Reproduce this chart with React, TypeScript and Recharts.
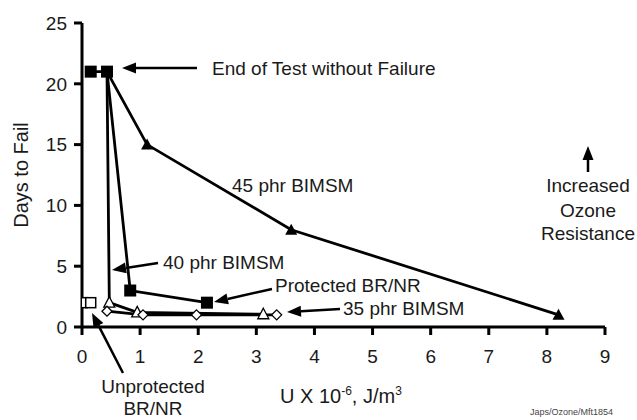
import React from "react";
import { LineChart, Line, XAxis, YAxis } from "recharts";

// Days to fail vs. strain energy density U (x 10^-6 J/m^3)
const protectedX = [0.15, 0.43, 0.83, 2.15];
const protectedY = [21, 21, 3, 2];
const phr45X = [0.43, 1.12, 3.6, 8.2];
const phr45Y = [21, 15, 8, 1];
const phr40X = [0.43, 0.47, 0.95, 3.12];
const phr40Y = [21, 2, 1.2, 1.05];
const phr35X = [0.43, 1.05, 1.97, 3.35];
const phr35Y = [1.3, 1, 1, 1];
const unprotX = [0, 0.15];
const unprotY = [2, 2];

const xTicks = [0, 1, 2, 3, 4, 5, 6, 7, 8, 9];
const yTicks = [0, 5, 10, 15, 20, 25];

const toPoints = (xs, ys) => xs.map((x, i) => ({ x, y: ys[i] }));

const FONT = "'Liberation Sans', Arial, sans-serif";
const INK = "#1a1a1a";

const makeDot = (kind, skipFirst) => (props) => {
  const { cx, cy, index } = props;
  const key = `d-${kind}-${index}`;
  if ((skipFirst && index === 0) || cx == null || cy == null) return <g key={key} />;
  if (kind === "fsquare") {
    return <rect key={key} x={cx - 6} y={cy - 6} width={12} height={12} fill="#000" />;
  }
  if (kind === "osquare") {
    return <rect key={key} x={cx - 5} y={cy - 5} width={10} height={10} fill="#fff" stroke="#000" strokeWidth={1.5} />;
  }
  if (kind === "ftri") {
    return <path key={key} d={`M${cx},${cy - 6} L${cx + 6},${cy + 5} L${cx - 6},${cy + 5} Z`} fill="#000" />;
  }
  if (kind === "otri") {
    return (
      <path key={key} d={`M${cx},${cy - 6} L${cx + 5.5},${cy + 4.5} L${cx - 5.5},${cy + 4.5} Z`} fill="#fff" stroke="#000" strokeWidth={1.3} />
    );
  }
  return (
    <path key={key} d={`M${cx},${cy - 5} L${cx + 5},${cy} L${cx},${cy + 5} L${cx - 5},${cy} Z`} fill="#fff" stroke="#000" strokeWidth={1.3} />
  );
};

const Arrow = ({ x1, y1, x2, y2 }) => {
  // x2,y2 is the tip
  const a = Math.atan2(y2 - y1, x2 - x1);
  const len = 14;
  const w = 5.5;
  const bx = x2 - len * Math.cos(a);
  const by = y2 - len * Math.sin(a);
  const px = -Math.sin(a) * w;
  const py = Math.cos(a) * w;
  return (
    <g>
      <line x1={x1} y1={y1} x2={bx} y2={by} stroke="#000" strokeWidth={2.5} />
      <path d={`M${x2},${y2} L${bx + px},${by + py} L${bx - px},${by - py} Z`} fill="#000" />
    </g>
  );
};

const txt = { fontFamily: FONT, fontSize: 19, fill: INK };

const App = () => {
  return (
    <div style={{ position: "absolute", left: 0, top: 0, width: 637, height: 420, background: "#fff" }}>
      <LineChart width={637} height={420} margin={{ top: 23, right: 32, left: 0, bottom: 33 }}>
        <XAxis
          type="number"
          dataKey="x"
          domain={[0, 9]}
          ticks={xTicks}
          allowDataOverflow
          axisLine={{ stroke: "#000", strokeWidth: 3 }}
          tickLine={{ stroke: "#000", strokeWidth: 3 }}
          tickSize={8}
          tickMargin={15}
          height={60}
          tick={{ fill: INK, fontSize: 19, fontFamily: FONT }}
        />
        <YAxis
          type="number"
          dataKey="y"
          domain={[0, 25]}
          ticks={yTicks}
          axisLine={{ stroke: "#000", strokeWidth: 3 }}
          tickLine={{ stroke: "#000", strokeWidth: 3 }}
          tickSize={8}
          tickMargin={7}
          width={82}
          tick={{ fill: INK, fontSize: 19, fontFamily: FONT }}
        />
        <Line data={toPoints(phr45X, phr45Y)} dataKey="y" type="linear" stroke="#000" strokeWidth={2.8} dot={makeDot("ftri", true)} isAnimationActive={false} />
        <Line data={toPoints(phr40X, phr40Y)} dataKey="y" type="linear" stroke="#000" strokeWidth={2.8} dot={makeDot("otri", true)} isAnimationActive={false} />
        <Line data={toPoints(phr35X, phr35Y)} dataKey="y" type="linear" stroke="#000" strokeWidth={2.8} dot={makeDot("odiamond", false)} isAnimationActive={false} />
        <Line data={toPoints(unprotX, unprotY)} dataKey="y" type="linear" stroke="#000" strokeWidth={2.5} dot={makeDot("osquare", false)} isAnimationActive={false} />
        <Line data={toPoints(protectedX, protectedY)} dataKey="y" type="linear" stroke="#000" strokeWidth={2.8} dot={makeDot("fsquare", false)} isAnimationActive={false} />
      </LineChart>
      <svg width={637} height={420} style={{ position: "absolute", left: 0, top: 0, pointerEvents: "none" }}>
        <text x={21} y={175} transform="rotate(-90 21 175)" textAnchor="middle" dy="0.35em" {...txt} fontSize={20}>
          Days to Fail
        </text>
        <text x={280} y={396} dy="0.35em" {...txt} fontSize={20}>
          U X 10<tspan dy={-8} fontSize={12}>-6</tspan>
          <tspan dy={8}>, J/m</tspan>
          <tspan dy={-8} fontSize={12}>3</tspan>
        </text>

        <Arrow x1={197} y1={68} x2={122} y2={68} />
        <text x={212} y={68} dy="0.35em" {...txt}>End of Test without Failure</text>

        <text x={232} y={185} dy="0.35em" {...txt}>45 phr BIMSM</text>

        <Arrow x1={158} y1={263} x2={112} y2={270} />
        <text x={163} y={262} dy="0.35em" {...txt}>40 phr BIMSM</text>

        <Arrow x1={272} y1={289} x2={214} y2={302} />
        <text x={275} y={285} dy="0.35em" {...txt}>Protected BR/NR</text>

        <Arrow x1={340} y1={309} x2={287} y2={312} />
        <text x={343} y={308} dy="0.35em" {...txt}>35 phr BIMSM</text>

        <Arrow x1={123} y1={373} x2={92} y2={313} />
        <text x={153} y={386} textAnchor="middle" dy="0.35em" {...txt}>Unprotected</text>
        <text x={153} y={408} textAnchor="middle" dy="0.35em" {...txt}>BR/NR</text>

        <Arrow x1={588} y1={172} x2={588} y2={146} />
        <text x={588} y={185} textAnchor="middle" dy="0.35em" {...txt}>Increased</text>
        <text x={588} y={210} textAnchor="middle" dy="0.35em" {...txt}>Ozone</text>
        <text x={588} y={233} textAnchor="middle" dy="0.35em" {...txt}>Resistance</text>

        <text x={530} y={412} dy="0.35em" fontFamily={FONT} fontSize={9} fill="#444">Japs/Ozone/Mft1854</text>
      </svg>
    </div>
  );
};

export default App;
